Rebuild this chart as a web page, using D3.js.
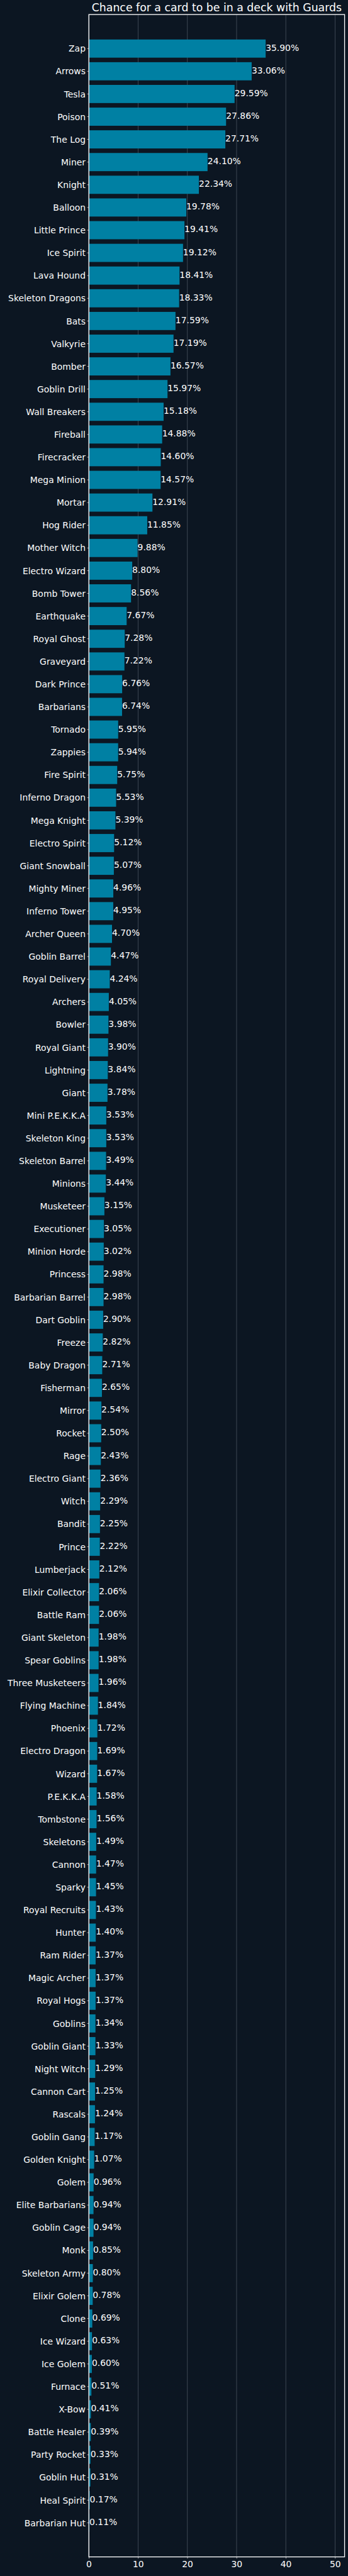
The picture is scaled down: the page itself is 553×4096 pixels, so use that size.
<!DOCTYPE html>
<html>
<head>
<meta charset="utf-8">
<script src="https://cdn.jsdelivr.net/npm/d3@7"></script>
<style>
html, body { margin: 0; padding: 0; background: #0c1622; }
svg { display: block; }
</style>
</head>
<body>
<script>
const categories = [
  "Zap","Arrows","Tesla","Poison","The Log","Miner","Knight","Balloon","Little Prince","Ice Spirit",
  "Lava Hound","Skeleton Dragons","Bats","Valkyrie","Bomber","Goblin Drill","Wall Breakers","Fireball","Firecracker","Mega Minion",
  "Mortar","Hog Rider","Mother Witch","Electro Wizard","Bomb Tower","Earthquake","Royal Ghost","Graveyard","Dark Prince","Barbarians",
  "Tornado","Zappies","Fire Spirit","Inferno Dragon","Mega Knight","Electro Spirit","Giant Snowball","Mighty Miner","Inferno Tower","Archer Queen",
  "Goblin Barrel","Royal Delivery","Archers","Bowler","Royal Giant","Lightning","Giant","Mini P.E.K.K.A","Skeleton King","Skeleton Barrel",
  "Minions","Musketeer","Executioner","Minion Horde","Princess","Barbarian Barrel","Dart Goblin","Freeze","Baby Dragon","Fisherman",
  "Mirror","Rocket","Rage","Electro Giant","Witch","Bandit","Prince","Lumberjack","Elixir Collector","Battle Ram",
  "Giant Skeleton","Spear Goblins","Three Musketeers","Flying Machine","Phoenix","Electro Dragon","Wizard","P.E.K.K.A","Tombstone","Skeletons",
  "Cannon","Sparky","Royal Recruits","Hunter","Ram Rider","Magic Archer","Royal Hogs","Goblins","Goblin Giant","Night Witch",
  "Cannon Cart","Rascals","Goblin Gang","Golden Knight","Golem","Elite Barbarians","Goblin Cage","Monk","Skeleton Army","Elixir Golem",
  "Clone","Ice Wizard","Ice Golem","Furnace","X-Bow","Battle Healer","Party Rocket","Goblin Hut","Heal Spirit","Barbarian Hut"
];
const values = [
  35.90,33.06,29.59,27.86,27.71,24.10,22.34,19.78,19.41,19.12,
  18.41,18.33,17.59,17.19,16.57,15.97,15.18,14.88,14.60,14.57,
  12.91,11.85,9.88,8.80,8.56,7.67,7.28,7.22,6.76,6.74,
  5.95,5.94,5.75,5.53,5.39,5.12,5.07,4.96,4.95,4.70,
  4.47,4.24,4.05,3.98,3.90,3.84,3.78,3.53,3.53,3.49,
  3.44,3.15,3.05,3.02,2.98,2.98,2.90,2.82,2.71,2.65,
  2.54,2.50,2.43,2.36,2.29,2.25,2.22,2.12,2.06,2.06,
  1.98,1.98,1.96,1.84,1.72,1.69,1.67,1.58,1.56,1.49,
  1.47,1.45,1.43,1.40,1.37,1.37,1.37,1.34,1.33,1.29,
  1.25,1.24,1.17,1.07,0.96,0.94,0.94,0.85,0.80,0.78,
  0.69,0.63,0.60,0.51,0.41,0.39,0.33,0.31,0.17,0.11
];
const xTicks = [0, 10, 20, 30, 40, 50];
const xMax = 51.93;
const titleText = "Chance for a card to be in a deck with Guards";

(function () {
  const data = categories.map((c, i) => ({ name: c, value: values[i] }));

  const S = 0.525;
  const plotLeft = 269, plotRight = 1043, plotTop = 44, plotBottom = 7744;
  const FONT = "DejaVu Sans";
  const BG = "#0c1622", BAR = "#0080a3", GRID = "#5b6471", FG = "#ffffff";

  const svg = d3.select("body").append("svg")
    .attr("width", 553).attr("height", 4096);
  svg.append("rect").attr("width", 553).attr("height", 4096).attr("fill", BG);

  const g = svg.append("g").attr("transform", `scale(${S})`);

  const x = d3.scaleLinear().domain([0, xMax]).range([plotLeft, plotRight]);
  const y = d3.scaleBand().domain(categories).range([plotTop, plotBottom])
    .paddingInner(0.2).paddingOuter(1.1);

  // grid
  g.append("g").selectAll("line").data(xTicks).join("line")
    .attr("x1", d => x(d)).attr("x2", d => x(d))
    .attr("y1", plotTop).attr("y2", plotBottom)
    .attr("stroke", GRID).attr("stroke-width", 1.2);

  // bars
  g.append("g").selectAll("rect").data(data).join("rect")
    .attr("x", x(0))
    .attr("y", d => y(d.name))
    .attr("width", d => x(d.value) - x(0))
    .attr("height", y.bandwidth())
    .attr("fill", BAR);

  // value labels
  g.append("g").selectAll("text").data(data).join("text")
    .attr("x", d => x(d.value))
    .attr("y", d => y(d.name) + y.bandwidth() / 2)
    .attr("dy", "0.25em")
    .attr("font-family", FONT).attr("font-size", 26.5)
    .attr("fill", FG)
    .text(d => d.value.toFixed(2) + "%");

  // y axis
  const yAxis = g.append("g").attr("transform", `translate(${plotLeft},0)`)
    .call(d3.axisLeft(y).tickSize(5).tickPadding(5));
  yAxis.select(".domain").remove();
  yAxis.selectAll(".tick line").attr("stroke", FG).attr("stroke-width", 1.2);
  yAxis.selectAll(".tick text")
    .attr("fill", FG).attr("font-family", FONT).attr("font-size", 26.5)
    .attr("dy", "0.37em");

  // x axis
  const xAxis = g.append("g").attr("transform", `translate(0,${plotBottom})`)
    .call(d3.axisBottom(x).tickValues(xTicks).tickSize(5).tickPadding(8).tickFormat(d3.format("d")));
  xAxis.select(".domain").remove();
  xAxis.selectAll(".tick line").attr("stroke", FG).attr("stroke-width", 1.2);
  xAxis.selectAll(".tick text")
    .attr("fill", FG).attr("font-family", FONT).attr("font-size", 26.5);

  // spines
  g.append("rect")
    .attr("x", plotLeft).attr("y", plotTop)
    .attr("width", plotRight - plotLeft).attr("height", plotBottom - plotTop)
    .attr("fill", "none").attr("stroke", FG).attr("stroke-width", 2.5);

  // title
  g.append("text")
    .attr("x", (plotLeft + plotRight) / 2).attr("y", 35)
    .attr("text-anchor", "middle")
    .attr("font-family", FONT).attr("font-size", 33)
    .attr("fill", FG)
    .text(titleText);
})();
</script>
</body>
</html>
